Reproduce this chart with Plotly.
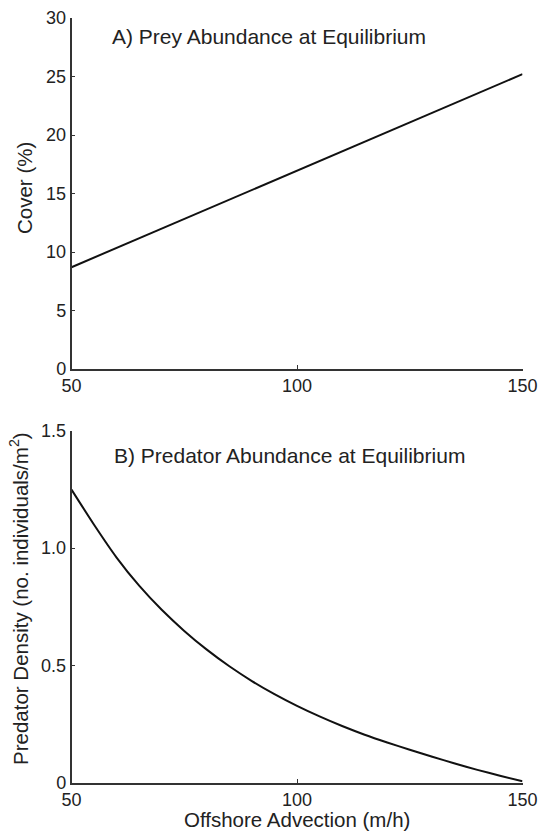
import plotly.graph_objects as go

# ---- data ----
advection_a = [50, 60, 70, 80, 90, 100, 110, 120, 130, 140, 150]
prey_cover = [8.7, 10.35, 12.0, 13.65, 15.3, 16.95, 18.6, 20.25, 21.9, 23.55, 25.2]

advection_b = [50, 55, 60, 65, 70, 75, 80, 85, 90, 95, 100,
               105, 110, 115, 120, 125, 130, 135, 140, 145, 150]
predator_density = [1.25, 1.10, 0.96, 0.84, 0.737, 0.647, 0.567, 0.496, 0.433, 0.377, 0.327,
                    0.282, 0.241, 0.204, 0.171, 0.140, 0.110, 0.081, 0.054, 0.029, 0.005]

x_ticks = [50, 100, 150]
x_ticktext = ["50", "100", "150"]
ya_ticks = [0, 5, 10, 15, 20, 25, 30]
ya_ticktext = ["0", "5", "10", "15", "20", "25", "30"]
yb_ticks = [0, 0.5, 1.0, 1.5]
yb_ticktext = ["0", "0.5", "1.0", "1.5"]

W, H = 542, 834
FONT = "Liberation Sans, Arial, sans-serif"
TXT = "#222222"
AX = "#333333"

fig = go.Figure()
fig.add_trace(go.Scatter(x=advection_a, y=prey_cover, mode="lines",
                         line=dict(color="#111111", width=2), xaxis="x", yaxis="y",
                         showlegend=False))
fig.add_trace(go.Scatter(x=advection_b, y=predator_density, mode="lines",
                         line=dict(color="#111111", width=2, shape="spline", smoothing=0.6),
                         xaxis="x2", yaxis="y2", showlegend=False))

axis_common = dict(showline=True, linecolor=AX, linewidth=1.5, ticks="inside",
                   ticklen=4, tickwidth=1, tickcolor=AX, showgrid=False,
                   zeroline=False, automargin=False,
                   tickfont=dict(family=FONT, size=18, color=TXT))

x0, x1 = 71.5 / W, 522.5 / W
ya_dom = [1 - 369 / H, 1 - 18 / H]
yb_dom = [1 - 782.5 / H, 1 - 431 / H]

fig.update_layout(
    width=W, height=H,
    margin=dict(l=0, r=0, t=0, b=0),
    paper_bgcolor="white", plot_bgcolor="white",
    font=dict(family=FONT, color=TXT),
    xaxis=dict(domain=[x0, x1], range=[50, 150], tickvals=x_ticks, ticktext=x_ticktext,
               anchor="y", **axis_common),
    yaxis=dict(domain=ya_dom, range=[0, 30], tickvals=ya_ticks, ticktext=ya_ticktext,
               anchor="x", **axis_common),
    xaxis2=dict(domain=[x0, x1], range=[50, 150], tickvals=x_ticks, ticktext=x_ticktext,
                anchor="y2", **axis_common),
    yaxis2=dict(domain=yb_dom, range=[0, 1.5], tickvals=yb_ticks, ticktext=yb_ticktext,
                anchor="x2", **axis_common),
)

def ann(text, x, y, size=20, angle=0, xanchor="center"):
    fig.add_annotation(text=text, x=x / W, y=1 - y / H, xref="paper", yref="paper",
                       showarrow=False, textangle=angle, xanchor=xanchor, yanchor="middle",
                       font=dict(family=FONT, size=size, color=TXT))

ann("A) Prey Abundance at Equilibrium", 110, 37, size=21, xanchor="left")
ann("B) Predator Abundance at Equilibrium", 112, 455, size=21, xanchor="left")
ann("Cover (%)", 25, 188, size=20.5, angle=-90)
ann("Predator Density (no. individuals/m<sup>2</sup>)", 19, 599, size=20.5, angle=-90)
ann("Offshore Advection (m/h)", 297, 819, size=20.5)

fig.write_html("out.html")
